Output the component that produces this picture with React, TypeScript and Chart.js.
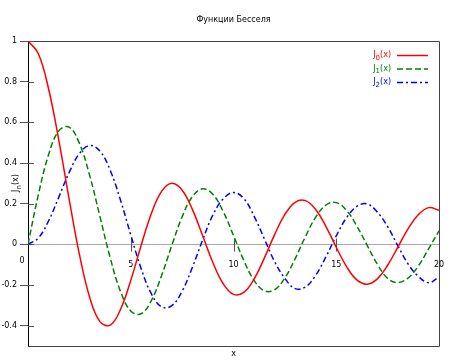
import React, { useEffect, useRef } from "react";
import { Chart, registerables } from "chart.js";

Chart.register(...registerables);

const TITLE = "Функции Бесселя";
const X_AXIS_LABEL = "x";
const xs = [0,0.5,1,1.5,2,2.5,3,3.5,4,4.5,5,5.5,6,6.5,7,7.5,8,8.5,9,9.5,10,10.5,11,11.5,12,12.5,13,13.5,14,14.5,15,15.5,16,16.5,17,17.5,18,18.5,19,19.5,20];
const j0 = [1,0.9385,0.7652,0.5118,0.2239,-0.0484,-0.2601,-0.3801,-0.3971,-0.3205,-0.1776,-0.0068,0.1506,0.2601,0.3001,0.2663,0.1717,0.0419,-0.0903,-0.1939,-0.2459,-0.2366,-0.1712,-0.0677,0.0477,0.1469,0.2069,0.2150,0.1711,0.0875,-0.0142,-0.1092,-0.1749,-0.1960,-0.1699,-0.1029,-0.0134,0.0777,0.1466,0.1805,0.1670];
const j1 = [0,0.2423,0.4401,0.5579,0.5767,0.4971,0.3391,0.1374,-0.0660,-0.2311,-0.3276,-0.3414,-0.2767,-0.1538,-0.0047,0.1352,0.2346,0.2731,0.2453,0.1613,0.0435,-0.0789,-0.1768,-0.2284,-0.2234,-0.1655,-0.0703,0.0380,0.1334,0.1934,0.2051,0.1672,0.0904,-0.0041,-0.0977,-0.1672,-0.1880,-0.1655,-0.1057,-0.0211,0.0668];
const j2 = [0,0.0306,0.1149,0.2321,0.3528,0.4461,0.4861,0.4586,0.3641,0.2178,0.0466,-0.1173,-0.2429,-0.3074,-0.3014,-0.2303,-0.1130,0.0223,0.1448,0.2235,0.2546,0.2252,0.1390,0.0272,-0.0849,-0.1672,-0.2177,-0.2094,-0.1520,-0.0609,0.0416,0.1308,0.1862,0.1991,0.1584,0.0870,-0.0075,-0.0971,-0.1578,-0.1884,-0.1603];
const seriesNames = ["0", "1", "2"]; // subscripts of J_n(x)
const seriesColors = ["#ff0000", "#008000", "#0000ff"];
const seriesDash = [[], [6, 3], [6, 3, 2, 3]];
const xTicks = [0, 5, 10, 15, 20];
const yTicks = [-0.4, -0.2, 0, 0.2, 0.4, 0.6, 0.8, 1];

const FONT = "DejaVu Sans";

function drawSubLabel(ctx: CanvasRenderingContext2D, sub: string, x: number, y: number, align: "right" | "center") {
  // draws J_sub(x) with baseline-middle at y
  const main = 8, small = 7;
  ctx.font = `${main}px ${FONT}`;
  const wJ = ctx.measureText("J").width;
  const wX = ctx.measureText("(x)").width;
  ctx.font = `${small}px ${FONT}`;
  const wS = ctx.measureText(sub).width;
  const total = wJ + wS + wX;
  let sx = align === "right" ? x - total : x - total / 2;
  ctx.textAlign = "left";
  ctx.textBaseline = "middle";
  ctx.font = `${main}px ${FONT}`;
  ctx.fillText("J", sx, y);
  ctx.font = `${small}px ${FONT}`;
  ctx.fillText(sub, sx + wJ, y + 3);
  ctx.font = `${main}px ${FONT}`;
  ctx.fillText("(x)", sx + wJ + wS, y);
}

const decor = {
  id: "decor",
  beforeDatasetsDraw(chart: any) {
    const { ctx, chartArea: a, scales } = chart;
    const xs_ = scales.x, ys_ = scales.y;
    ctx.save();
    ctx.strokeStyle = "#444";
    ctx.lineWidth = 1;
    ctx.beginPath();
    ctx.moveTo(a.left, a.top + 0.5);
    ctx.lineTo(a.right + 0.5, a.top + 0.5);
    ctx.lineTo(a.right + 0.5, a.bottom + 0.5);
    ctx.lineTo(a.left, a.bottom + 0.5);
    ctx.stroke();
    // inner y tick parts
    ctx.strokeStyle = "#555";
    ctx.beginPath();
    for (const v of yTicks) {
      const py = Math.round(ys_.getPixelForValue(v)) + 0.5;
      ctx.moveTo(a.left, py);
      ctx.lineTo(a.left + 6, py);
    }
    // x tick marks at zero line
    const y0 = Math.round(ys_.getPixelForValue(0)) + 0.5;
    for (const v of xTicks) {
      if (v === 0 || v === 20) continue;
      const px = Math.round(xs_.getPixelForValue(v)) + 0.5;
      ctx.moveTo(px, y0 - 6);
      ctx.lineTo(px, y0 + 7);
    }
    ctx.stroke();
    // x tick labels
    ctx.fillStyle = "#000";
    ctx.font = `8px ${FONT}`;
    ctx.textAlign = "center";
    ctx.textBaseline = "middle";
    for (const v of xTicks) {
      const px = xs_.getPixelForValue(v);
      if (v === 0) ctx.fillText(String(v), px - 6, y0 + 16);
      else ctx.fillText(String(v), px, y0 + 20);
    }
    ctx.restore();
  },
  afterDraw(chart: any) {
    const { ctx, chartArea: a } = chart;
    ctx.save();
    ctx.fillStyle = "#000";
    ctx.font = `8px ${FONT}`;
    ctx.textAlign = "center";
    ctx.textBaseline = "middle";
    ctx.fillText(TITLE, (a.left + a.right) / 2, 20);
    ctx.fillText(X_AXIS_LABEL, (a.left + a.right) / 2, 354);
    // y label rotated
    ctx.save();
    ctx.translate(16, 183);
    ctx.rotate(-Math.PI / 2);
    drawSubLabel(ctx, "n", 0, 0, "center");
    ctx.restore();
    // legend
    for (let i = 0; i < seriesNames.length; i++) {
      const ly = 55 + i * 13.5;
      ctx.fillStyle = seriesColors[i];
      drawSubLabel(ctx, seriesNames[i], 391, ly, "right");
      ctx.strokeStyle = seriesColors[i];
      ctx.lineWidth = 1.5;
      ctx.setLineDash(seriesDash[i]);
      ctx.beginPath();
      ctx.moveTo(397, ly + 0.5);
      ctx.lineTo(428, ly + 0.5);
      ctx.stroke();
    }
    ctx.restore();
  },
};

export default function App() {
  const ref = useRef<HTMLCanvasElement>(null);
  useEffect(() => {
    document.body.style.margin = "0";
    const c = ref.current!;
    const datasets = [j0, j1, j2].map((arr, i) => ({
      label: `J${seriesNames[i]}(x)`,
      data: xs.map((x, k) => ({ x, y: arr[k] })),
      borderColor: seriesColors[i],
      borderWidth: 1.5,
      borderDash: seriesDash[i],
      pointRadius: 0,
      tension: 0.4,
      fill: false,
    }));
    const chart = new Chart(c, {
      type: "line",
      data: { datasets },
      plugins: [decor],
      options: {
        responsive: false,
        animation: false,
        layout: { padding: { top: 41, right: 11, bottom: 14, left: 0 } },
        plugins: { legend: { display: false }, title: { display: false }, tooltip: { enabled: false } },
        scales: {
          x: { type: "linear", min: 0, max: 20, display: false },
          y: {
            type: "linear",
            min: -0.5,
            max: 1,
            afterFit: (s: any) => { s.width = 28; },
            afterBuildTicks: (s: any) => { s.ticks = yTicks.map((v) => ({ value: v })); },
            border: { display: true, color: "#000", width: 1 },
            grid: {
              drawOnChartArea: true,
              drawTicks: true,
              tickLength: 8,
              tickColor: "#555",
              color: (ctx: any) => (ctx.tick && ctx.tick.value === 0 ? "#aaa" : "rgba(0,0,0,0)"),
            },
            ticks: {
              padding: 3,
              color: "#000",
              font: { family: FONT, size: 8 },
              callback: (v: any) => String(Math.round(Number(v) * 10) / 10),
            },
          },
        },
      },
    });
    return () => chart.destroy();
  }, []);
  return <canvas ref={ref} width={450} height={360} style={{ display: "block" }} />;
}
